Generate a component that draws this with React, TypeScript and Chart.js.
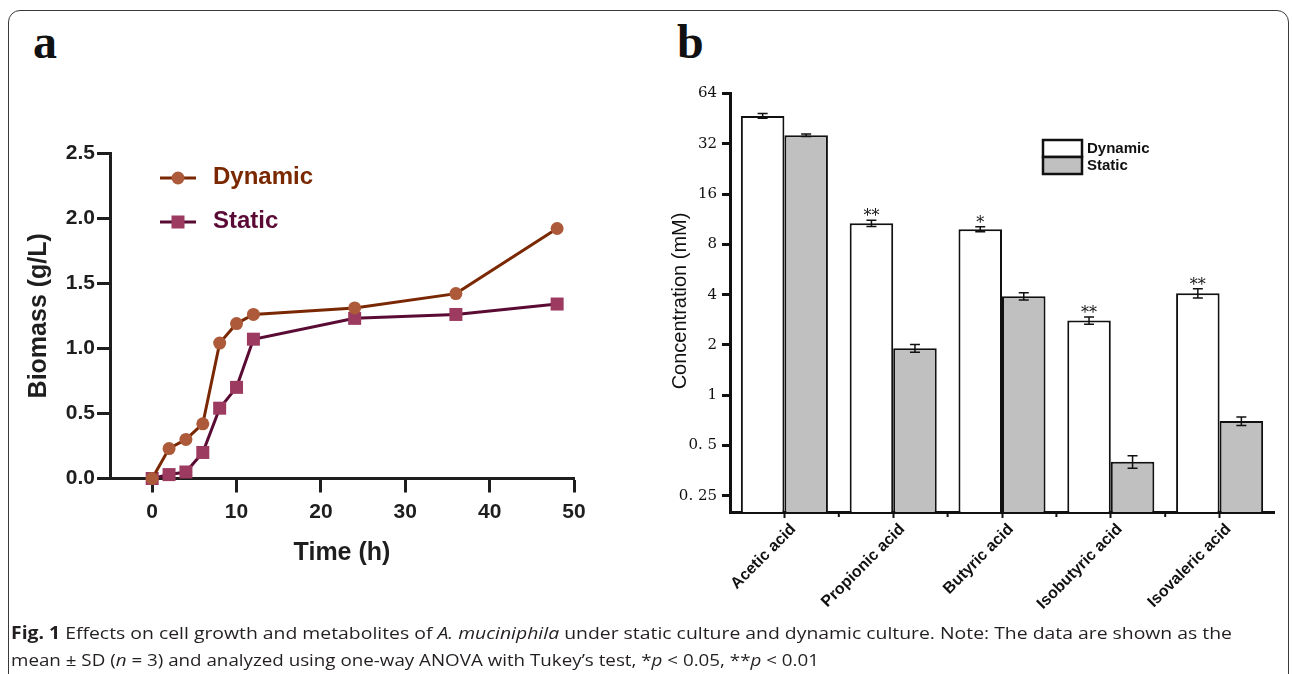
import React, { useEffect, useLayoutEffect, useRef, useState } from "react";
import { Chart, registerables } from "chart.js";

Chart.register(...registerables);
Chart.defaults.font.family = "'Liberation Sans', Arial, sans-serif";

// ---------- Panel a: biomass over time ----------
const timeHours = [0, 2, 4, 6, 8, 10, 12, 24, 36, 48];
const dynamicBiomass = [0.0, 0.23, 0.3, 0.42, 1.04, 1.19, 1.26, 1.31, 1.42, 1.92];
const staticBiomass = [0.0, 0.03, 0.05, 0.2, 0.54, 0.7, 1.07, 1.23, 1.26, 1.34];
const biomassTicks = [0, 0.5, 1.0, 1.5, 2.0, 2.5];
const timeTicks = [0, 10, 20, 30, 40, 50];
const seriesNamesA = ["Dynamic", "Static"];

// ---------- Panel b: short-chain fatty acids ----------
const acids = ["Acetic acid", "Propionic acid", "Butyric acid", "Isobutyric acid", "Isovaleric acid"];
const dynamicConc = [47.0, 10.7, 9.85, 2.8, 4.08];
const dynamicSD = [1.5, 0.47, 0.34, 0.14, 0.26];
const staticConc = [36.0, 1.91, 3.91, 0.4, 0.7];
const staticSD = [0.67, 0.1, 0.19, 0.034, 0.04];
const significance = ["", "**", "*", "**", "**"];
const concTicks = [0.25, 0.5, 1, 2, 4, 8, 16, 32, 64];
const concTickLabels = ["0. 25", "0. 5", "1", "2", "4", "8", "16", "32", "64"];
const seriesNamesB = ["Dynamic", "Static"];

const AXIS = "#1e1e1e";
const DYN_LINE = "#7a2804";
const DYN_MARK = "#ad5a3a";
const DYN_TEXT = "#7a2800";
const STA_LINE = "#5a0b33";
const STA_MARK = "#9c3a60";
const STA_TEXT = "#5a0a35";
const BAR_EDGE = "#111111";
const STATIC_FILL = "#c0c0c0";

function GrowthChart() {
  const ref = useRef<HTMLCanvasElement>(null);
  useEffect(() => {
    const canvas = ref.current!;
    const overlay = {
      id: "overlayA",
      afterDraw(chart: any) {
        const ctx = chart.ctx;
        const ca = chart.chartArea;
        ctx.save();
        ctx.fillStyle = AXIS;
        ctx.font = "bold 25px 'Liberation Sans', Arial, sans-serif";
        ctx.textAlign = "center";
        ctx.textBaseline = "middle";
        ctx.fillText("Time (h)", (ca.left + ca.right) / 2, 553);
        ctx.save();
        ctx.translate(39, (ca.top + ca.bottom) / 2);
        ctx.rotate(-Math.PI / 2);
        ctx.fillText("Biomass (g/L)", 0, 0);
        ctx.restore();

        // legend
        const rows = [
          { name: seriesNamesA[0], y: 178, line: DYN_LINE, mark: DYN_MARK, text: DYN_TEXT, circle: true },
          { name: seriesNamesA[1], y: 222, line: STA_LINE, mark: STA_MARK, text: STA_TEXT, circle: false },
        ];
        rows.forEach((r) => {
          ctx.strokeStyle = r.line;
          ctx.lineWidth = 3;
          ctx.beginPath();
          ctx.moveTo(160, r.y);
          ctx.lineTo(196, r.y);
          ctx.stroke();
          ctx.fillStyle = r.mark;
          if (r.circle) {
            ctx.beginPath();
            ctx.arc(178, r.y, 6.5, 0, Math.PI * 2);
            ctx.fill();
          } else {
            ctx.fillRect(178 - 6.5, r.y - 6.5, 13, 13);
          }
          ctx.fillStyle = r.text;
          ctx.font = "bold 24px 'Liberation Sans', Arial, sans-serif";
          ctx.textAlign = "left";
          ctx.textBaseline = "middle";
          ctx.fillText(r.name, 213, r.y - 1);
        });
        ctx.restore();
      },
    };

    const chart = new Chart(canvas, {
      type: "line",
      data: {
        datasets: [
          {
            label: seriesNamesA[1],
            data: timeHours.map((t, i) => ({ x: t, y: staticBiomass[i] })),
            borderColor: STA_LINE,
            borderWidth: 3,
            pointStyle: "rect",
            pointRadius: 9.2,
            pointBackgroundColor: STA_MARK,
            pointBorderColor: STA_MARK,
            pointBorderWidth: 0,
            clip: false,
            order: 2,
          } as any,
          {
            label: seriesNamesA[0],
            data: timeHours.map((t, i) => ({ x: t, y: dynamicBiomass[i] })),
            borderColor: DYN_LINE,
            borderWidth: 3,
            pointStyle: "circle",
            pointRadius: 6.5,
            pointBackgroundColor: DYN_MARK,
            pointBorderColor: DYN_MARK,
            pointBorderWidth: 0,
            clip: false,
            order: 1,
          } as any,
        ],
      },
      options: {
        animation: false,
        responsive: false,
        maintainAspectRatio: false,
        layout: { padding: { left: 0, top: 153, right: 86, bottom: 61.5 } },
        plugins: { legend: { display: false }, tooltip: { enabled: false } },
        scales: {
          x: {
            type: "linear",
            min: -5,
            max: 50,
            afterBuildTicks: (s: any) => {
              s.ticks = timeTicks.map((v) => ({ value: v }));
            },
            afterFit: (s: any) => {
              s.height = 60;
            },
            grid: {
              display: true,
              drawOnChartArea: false,
              drawTicks: true,
              tickLength: 14,
              tickWidth: 3,
              tickColor: AXIS,
              color: AXIS,
            },
            border: { display: true, width: 3, color: AXIS },
            ticks: {
              color: AXIS,
              font: { size: 21, weight: "bold" },
              padding: 7,
              callback: (v: any) => String(v),
            },
          },
          y: {
            type: "linear",
            min: 0,
            max: 2.5,
            afterBuildTicks: (s: any) => {
              s.ticks = biomassTicks.map((v) => ({ value: v }));
            },
            afterFit: (s: any) => {
              s.width = 110;
            },
            grid: {
              display: true,
              drawOnChartArea: false,
              drawTicks: true,
              tickLength: 13,
              tickWidth: 3,
              tickColor: AXIS,
              color: AXIS,
            },
            border: { display: true, width: 3, color: AXIS },
            ticks: {
              color: AXIS,
              font: { size: 21, weight: "bold" },
              padding: 2,
              callback: (v: any) => Number(v).toFixed(1),
            },
          },
        },
      } as any,
      plugins: [overlay],
    });
    return () => chart.destroy();
  }, []);
  return (
    <canvas
      ref={ref}
      width={660}
      height={600}
      style={{ position: "absolute", left: 0, top: 0, width: 660, height: 600 }}
    />
  );
}

function AcidChart() {
  const ref = useRef<HTMLCanvasElement>(null);
  useEffect(() => {
    const canvas = ref.current!;
    const overlay = {
      id: "overlayB",
      afterDatasetsDraw(chart: any) {
        const ctx = chart.ctx;
        const ys = chart.scales.y;
        const xs = chart.scales.x;
        ctx.save();
        const sets = [
          { vals: dynamicConc, sd: dynamicSD, idx: 0 },
          { vals: staticConc, sd: staticSD, idx: 1 },
        ];
        sets.forEach((s) => {
          const meta = chart.getDatasetMeta(s.idx);
          s.vals.forEach((v, i) => {
            const x = meta.data[i].x;
            const top = ys.getPixelForValue(v + s.sd[i]);
            const bot = ys.getPixelForValue(v - s.sd[i]);
            ctx.strokeStyle = BAR_EDGE;
            ctx.lineWidth = 1.5;
            ctx.beginPath();
            ctx.moveTo(x, top);
            ctx.lineTo(x, bot);
            ctx.moveTo(x - 5, top);
            ctx.lineTo(x + 5, top);
            ctx.moveTo(x - 5, bot);
            ctx.lineTo(x + 5, bot);
            ctx.stroke();
            if (s.idx === 0 && significance[i]) {
              ctx.fillStyle = BAR_EDGE;
              ctx.font = "16px 'DejaVu Serif', serif";
              ctx.textAlign = "center";
              ctx.textBaseline = "alphabetic";
              ctx.fillText(significance[i], x, top + 1);
            }
          });
        });

        // minor ticks between categories
        ctx.strokeStyle = BAR_EDGE;
        ctx.lineWidth = 2;
        for (let i = 0; i < acids.length - 1; i++) {
          const xm = (xs.getPixelForValue(i) + xs.getPixelForValue(i + 1)) / 2;
          ctx.beginPath();
          ctx.moveTo(xm, chart.chartArea.bottom);
          ctx.lineTo(xm, chart.chartArea.bottom + 5);
          ctx.stroke();
        }

        // y title
        ctx.fillStyle = BAR_EDGE;
        ctx.font = "20px 'Liberation Sans', Arial, sans-serif";
        ctx.textAlign = "center";
        ctx.textBaseline = "middle";
        ctx.save();
        ctx.translate(40, 301);
        ctx.rotate(-Math.PI / 2);
        ctx.fillText("Concentration (mM)", 0, 0);
        ctx.restore();

        // legend
        const lx = 403;
        const fills = ["#ffffff", STATIC_FILL];
        const tops = [140, 157];
        seriesNamesB.forEach((name, k) => {
          ctx.fillStyle = fills[k];
          ctx.fillRect(lx, tops[k], 39, 17);
          ctx.strokeStyle = BAR_EDGE;
          ctx.lineWidth = 2.5;
          ctx.strokeRect(lx, tops[k], 39, 17);
          ctx.fillStyle = BAR_EDGE;
          ctx.font = "bold 15px 'Liberation Sans', Arial, sans-serif";
          ctx.textAlign = "left";
          ctx.textBaseline = "middle";
          ctx.fillText(name, lx + 44, tops[k] + 8.5);
        });
        ctx.restore();
      },
    };

    const chart = new Chart(canvas, {
      type: "bar",
      data: {
        labels: acids,
        datasets: [
          {
            label: seriesNamesB[0],
            data: dynamicConc,
            backgroundColor: "#ffffff",
            borderColor: BAR_EDGE,
            borderWidth: 2,
            borderSkipped: "bottom",
            categoryPercentage: 0.8,
            barPercentage: 1.0,
          },
          {
            label: seriesNamesB[1],
            data: staticConc,
            backgroundColor: STATIC_FILL,
            borderColor: BAR_EDGE,
            borderWidth: 2,
            borderSkipped: "bottom",
            categoryPercentage: 0.8,
            barPercentage: 1.0,
          },
        ],
      },
      options: {
        animation: false,
        responsive: false,
        maintainAspectRatio: false,
        layout: { padding: { left: 0, top: 93.5, right: 19, bottom: 3 } },
        plugins: { legend: { display: false }, tooltip: { enabled: false } },
        scales: {
          x: {
            type: "category",
            offset: true,
            afterFit: (s: any) => {
              s.height = 110;
            },
            grid: {
              display: true,
              offset: false,
              drawOnChartArea: false,
              drawTicks: true,
              tickLength: 6,
              tickWidth: 2,
              tickColor: BAR_EDGE,
              color: BAR_EDGE,
            },
            border: { display: true, width: 3, color: BAR_EDGE },
            ticks: {
              autoSkip: false,
              minRotation: 45,
              maxRotation: 45,
              color: BAR_EDGE,
              padding: 2,
              labelOffset: 9,
              font: { size: 16, weight: "bold" },
            },
          },
          y: {
            type: "logarithmic",
            min: 0.2,
            max: 64,
            afterBuildTicks: (s: any) => {
              s.ticks = concTicks.map((v) => ({ value: v }));
            },
            afterFit: (s: any) => {
              s.width = 90;
            },
            grid: {
              display: true,
              drawOnChartArea: false,
              drawTicks: true,
              tickLength: 8,
              tickWidth: 3,
              tickColor: BAR_EDGE,
              color: BAR_EDGE,
            },
            border: { display: true, width: 3, color: BAR_EDGE },
            ticks: {
              color: BAR_EDGE,
              padding: 5,
              font: { family: "'DejaVu Serif', serif", size: 15 },
              callback: (_v: any, i: number) => concTickLabels[i],
            },
          },
        },
      } as any,
      plugins: [overlay],
    });
    return () => chart.destroy();
  }, []);
  return (
    <canvas
      ref={ref}
      width={653}
      height={625}
      style={{ position: "absolute", left: 640, top: 0, width: 653, height: 625 }}
    />
  );
}

function Caption() {
  const ref1 = useRef<HTMLSpanElement>(null);
  const ref2 = useRef<HTMLSpanElement>(null);
  const [sx, setSx] = useState<[number, number]>([1, 1]);
  useLayoutEffect(() => {
    const w1 = ref1.current ? ref1.current.getBoundingClientRect().width : 0;
    const w2 = ref2.current ? ref2.current.getBoundingClientRect().width : 0;
    if (w1 > 0 && w2 > 0) setSx([1221 / w1, 808 / w2]);
  }, []);
  const lineStyle = (k: number): React.CSSProperties => ({
    display: "block",
    width: "max-content",
    transform: `scaleX(${sx[k]})`,
    transformOrigin: "left top",
  });
  return (
    <div
      style={{
        position: "absolute",
        left: 11,
        top: 619,
        fontFamily: "'Open Sans', 'Noto Sans', sans-serif",
        fontSize: 17,
        lineHeight: "27px",
        color: "#231f20",
        whiteSpace: "nowrap",
      }}
    >
      <span ref={ref1} style={lineStyle(0)}>
        <b>Fig. 1</b> Effects on cell growth and metabolites of <i>A. muciniphila</i> under static culture and
        dynamic culture. Note: The data are shown as the
      </span>
      <span ref={ref2} style={lineStyle(1)}>
        mean ± SD (<i>n</i> = 3) and analyzed using one-way ANOVA with Tukey’s test, *<i>p</i> &lt; 0.05, **
        <i>p</i> &lt; 0.01
      </span>
    </div>
  );
}

export default function App() {
  const labelStyle: React.CSSProperties = {
    position: "absolute",
    fontFamily: "'Liberation Serif', 'Times New Roman', serif",
    fontWeight: "bold",
    fontSize: 48,
    lineHeight: "48px",
    color: "#111",
  };
  return (
    <div
      style={{
        position: "absolute",
        left: 0,
        top: 0,
        width: 1293,
        height: 674,
        overflow: "hidden",
        background: "#ffffff",
      }}
    >
      <div
        style={{
          position: "absolute",
          left: 8,
          top: 10,
          width: 1281,
          height: 720,
          border: "1.5px solid #3a3a3a",
          borderRadius: 12,
          boxSizing: "border-box",
        }}
      />
      <div style={{ ...labelStyle, left: 33, top: 18 }}>a</div>
      <div style={{ ...labelStyle, left: 677, top: 18 }}>b</div>
      <GrowthChart />
      <AcidChart />
      <Caption />
    </div>
  );
}
